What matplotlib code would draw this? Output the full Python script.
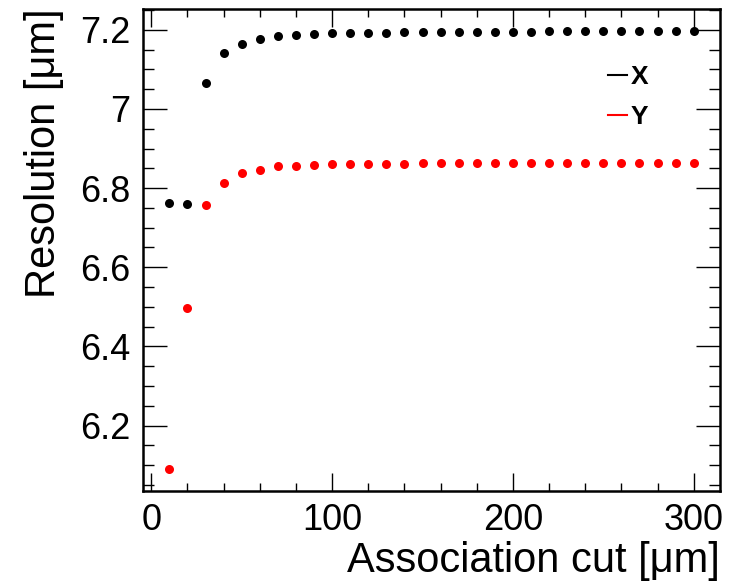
import numpy as np
import matplotlib.pyplot as plt
from matplotlib.lines import Line2D
from matplotlib.ticker import MultipleLocator

plt.rcParams['font.family'] = ['Liberation Sans', 'DejaVu Sans']

# association cut values [um]
cut = np.arange(10, 301, 10)

res_x = [6.762, 6.760, 7.065, 7.141, 7.165, 7.176, 7.183, 7.187, 7.189, 7.191,
         7.192, 7.193, 7.193, 7.194, 7.194, 7.195, 7.195, 7.195, 7.195, 7.195,
         7.195, 7.196, 7.196, 7.196, 7.196, 7.196, 7.196, 7.196, 7.196, 7.196]
res_y = [6.091, 6.496, 6.757, 6.814, 6.838, 6.846, 6.856, 6.857, 6.858, 6.861,
         6.862, 6.862, 6.862, 6.862, 6.863, 6.863, 6.863, 6.863, 6.863, 6.863,
         6.863, 6.863, 6.863, 6.863, 6.863, 6.863, 6.863, 6.863, 6.863, 6.863]

fig = plt.figure(figsize=(7.41, 5.84), dpi=100)
ax = fig.add_axes([0.193, 0.160, 0.779, 0.825])

ax.plot(cut, res_x, 'o', color='black', ms=6.5, mec='none')
ax.plot(cut, res_y, 'o', color='red', ms=6.5, mec='none')

ax.set_xlim(-4.6, 314.7)
ax.set_ylim(6.036, 7.253)
ax.xaxis.set_major_locator(MultipleLocator(100))
ax.xaxis.set_minor_locator(MultipleLocator(20))
ax.yaxis.set_minor_locator(MultipleLocator(0.05))
ax.set_yticks([6.2, 6.4, 6.6, 6.8, 7.0, 7.2])
ax.set_yticklabels(['6.2', '6.4', '6.6', '6.8', '7', '7.2'])

ax.tick_params(which='both', direction='in', top=True, right=True, width=1, labelsize=26)
ax.tick_params(axis='y', which='major', length=17, pad=9)
ax.tick_params(axis='y', which='minor', length=8)
ax.tick_params(axis='x', which='major', length=13, pad=9)
ax.tick_params(axis='x', which='minor', length=6)
for s in ax.spines.values():
    s.set_linewidth(1.8)

ax.set_xlabel('Association cut [μm]', fontsize=30, loc='right')
ax.set_ylabel('Resolution [μm]', fontsize=30, loc='top')
ax.xaxis.set_label_coords(1.0, -0.104)
ax.yaxis.set_label_coords(-0.137, 1.0)
ax.xaxis.label.set_va('top')

handles = [Line2D([0], [0], color='black', lw=1.5), Line2D([0], [0], color='red', lw=1.5)]
fig.legend(handles, ['X', 'Y'], loc='upper left', bbox_to_anchor=(0.821, 0.889),
           frameon=False, prop={'weight': 'bold', 'size': 19}, handlelength=0.72,
           handletextpad=0.12, labelspacing=0.62, borderpad=0, borderaxespad=0)

fig.savefig('out.png', dpi=100)
